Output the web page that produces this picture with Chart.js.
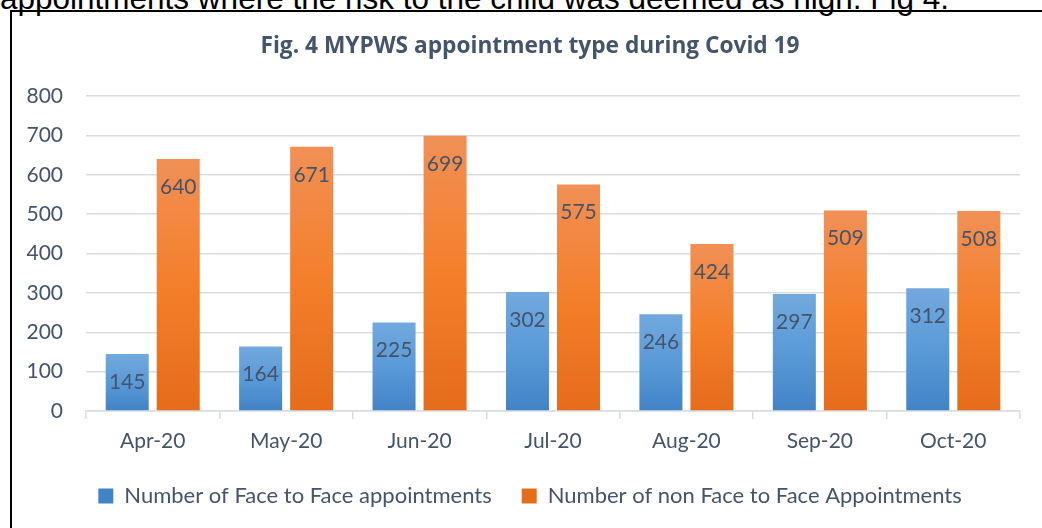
<!DOCTYPE html>
<html>
<head>
<meta charset="utf-8">
<script src="https://cdn.jsdelivr.net/npm/chart.js@4.4.1/dist/chart.umd.min.js"></script>
<style>
  html, body { margin: 0; padding: 0; background: #fff; overflow: hidden; }
  #page { position: relative; width: 1042px; height: 528px; overflow: hidden; }
  #docText {
    position: absolute; left: 0; top: -20px;
    font-family: "Liberation Sans", Arial, sans-serif; font-size: 31.5px;
    white-space: nowrap; color: #000;
  }
  #frame {
    position: absolute; left: 10px; top: 10px; width: 1100px; height: 600px;
    border-left: 2px solid #000; border-top: 2px solid #000;
  }
  #chart { position: absolute; left: 0; top: 0; }
</style>
</head>
<body>
<div id="page">
  <div id="docText">appointments where the risk to the child was deemed as high. Fig 4.</div>
  <div id="frame"></div>
  <!-- the Excel chart box runs a little past the right edge of the page -->
  <canvas id="chart" width="1060" height="528"></canvas>
</div>
<script>
const months = ["Apr-20", "May-20", "Jun-20", "Jul-20", "Aug-20", "Sep-20", "Oct-20"];
const faceToFace = [145, 164, 225, 302, 246, 297, 312];
const nonFaceToFace = [640, 671, 699, 575, 424, 509, 508];
const yTicks = [0, 100, 200, 300, 400, 500, 600, 700, 800];

const textColor = "#44546A";
const font = "Lato, 'Open Sans', sans-serif";
const gridColor = "#D9DCE1";

// gradient for each bar, from its top to the baseline
function barGradient(stops, fallback) {
    return function (ctx) {
        const chart = ctx.chart;
        const y = chart.scales && chart.scales.y;
        if (!y || ctx.parsed === undefined || ctx.type !== "data") return fallback;
        const top = y.getPixelForValue(ctx.parsed.y);
        const bottom = y.getPixelForValue(0);
        if (!isFinite(top) || !isFinite(bottom) || top === bottom) return fallback;
        const g = chart.ctx.createLinearGradient(0, top, 0, bottom);
        stops.forEach(s => g.addColorStop(s[0], s[1]));
        return g;
    };
}

// value labels just inside the end of each bar
const insideEndLabels = {
    id: "insideEndLabels",
    afterDatasetsDraw(chart) {
        const ctx = chart.ctx;
        ctx.save();
        ctx.font = "21px " + font;
        ctx.fillStyle = textColor;
        ctx.textAlign = "center";
        ctx.textBaseline = "middle";
        chart.data.datasets.forEach((ds, i) => {
            chart.getDatasetMeta(i).data.forEach((bar, j) => {
                ctx.fillText(String(ds.data[j]), bar.x, bar.y + 28);
            });
        });
        ctx.restore();
    }
};

new Chart(document.getElementById("chart"), {
    type: "bar",
    data: {
        labels: months,
        datasets: [{
            label: "Number of Face to Face appointments",
            data: faceToFace,
            backgroundColor: barGradient([[0, "#72A9DE"], [0.5, "#5A9AD8"], [1, "#4283C6"]], "#5B9BD5"),
            categoryPercentage: 0.765,
            barPercentage: 0.843
        }, {
            label: "Number of non Face to Face Appointments",
            data: nonFaceToFace,
            backgroundColor: barGradient([[0, "#F19056"], [0.5, "#F47F2A"], [1, "#E46C1B"]], "#ED7D31"),
            categoryPercentage: 0.765,
            barPercentage: 0.843
        }]
    },
    options: {
        responsive: false,
        animation: false,
        layout: { padding: { left: 0, right: 0, top: 0, bottom: 11 } },
        plugins: {
            title: {
                display: true,
                text: "Fig. 4 MYPWS appointment type during Covid 19",
                color: textColor,
                font: { family: "'Open Sans', Lato, sans-serif", size: 22.7, weight: "bold" },
                padding: { top: 33, bottom: 35.76 }
            },
            legend: {
                position: "bottom",
                labels: {
                    color: textColor,
                    font: { family: font, size: 22 },
                    boxWidth: 15,
                    boxHeight: 15,
                    padding: 30
                }
            },
            tooltip: { enabled: false }
        },
        scales: {
            x: {
                afterFit(scale) { scale.height = 44; },
                grid: { drawOnChartArea: false, drawTicks: true, tickLength: 8, color: gridColor, lineWidth: 1.5, offset: true },
                border: { display: true, color: gridColor, width: 1.5 },
                ticks: { color: textColor, font: { family: font, size: 21, lineHeight: 1 }, padding: 11.5 }
            },
            y: {
                min: 0,
                max: 800,
                afterBuildTicks(scale) { scale.ticks = yTicks.map(v => ({ value: v })); },
                afterFit(scale) { scale.width = 86; },
                grid: { color: gridColor, lineWidth: 1.5, drawTicks: false },
                border: { display: false },
                ticks: { color: textColor, font: { family: font, size: 21 }, padding: 23 }
            },
            // empty spacer on the right so the title and legend centre like the original
            y2: {
                position: "right",
                afterFit(scale) { scale.width = 40; },
                grid: { display: false },
                border: { display: false },
                ticks: { display: false }
            }
        }
    },
    plugins: [insideEndLabels]
});
</script>
</body>
</html>
